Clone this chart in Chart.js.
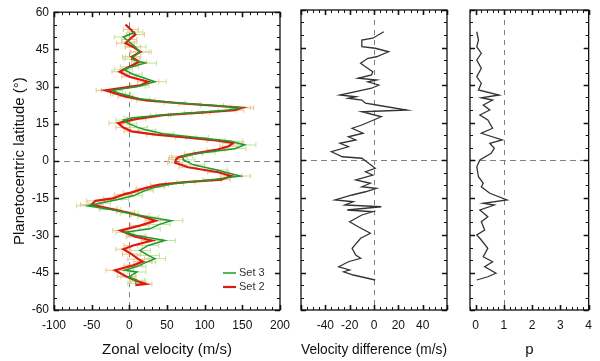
<!DOCTYPE html>
<html>
<head>
<meta charset="utf-8">
<script src="https://cdn.jsdelivr.net/npm/chart.js@4.4.0/dist/chart.umd.min.js"></script>
<style>
body { margin: 0; background: #fff; }
#wrap { position: relative; width: 600px; height: 361px; }
#wrap canvas { position: absolute; left: 0; top: 0; }
</style>
</head>
<body>
<div id="wrap">
  <canvas id="zonal" width="600" height="361"></canvas>
  <canvas id="diff" width="600" height="361"></canvas>
  <canvas id="pval" width="600" height="361"></canvas>
</div>
<script>
const latTicks = [60, 45, 30, 15, 0, -15, -30, -45, -60];

const set2Lat = [55, 53, 51, 49, 47.5, 46, 44, 42, 40, 38, 36, 34, 32, 30.5, 28.5, 27, 26, 24.5, 23, 21.5,
  20.5, 19.5, 18.5, 17, 15.3, 13.5, 12, 10.7, 9.5, 8.3, 7.3, 6, 4.5, 3, 1.5, 0.7, -0.7, -2.5, -4.5, -6,
  -7.5, -8.5, -9.5, -11, -12.7, -13.5, -15, -16, -17.5, -19, -20.5, -22, -24, -26, -28, -30.5, -32, -34, -35.5, -37.5,
  -39.5, -40.5, -42, -44, -46.5, -48.5, -49.5, -50];
const set2Vel = [-5, 2, 8, 0, -5, 5, 15, 3, 13, 0, -13, 0, 25, 14, -32, -15, -5, 22, 80, 150,
  140, 95, 45, 10, -15, -8, 3, 35, 75, 115, 138, 132, 115, 85, 65, 62, 61, 78, 118, 135,
  122, 75, 40, 20, 2, -8, -22, -45, -50, -28, -5, 14, 35, 14, -12, 8, 30, 5, -8, 3,
  12, 18, 5, -19, -4, 12, 22, 8];
const set2Err = [0, 10, 12, 10, 12, 10, 14, 12, 10, 12, 10, 10, 14, 12, 12, 10, 10, 12, 14, 15,
  12, 12, 10, 12, 12, 10, 10, 12, 14, 12, 14, 12, 12, 12, 12, 10, 10, 12, 14, 14,
  12, 12, 12, 10, 10, 12, 12, 12, 15, 12, 12, 12, 14, 12, 10, 12, 14, 12, 10, 12,
  14, 12, 12, 12, 12, 10, 8, 0];

const set3Lat = [52, 50, 48, 46, 44, 42, 41, 39.5, 37, 35, 32, 30, 28.5, 27, 25, 23.5, 22.5, 21.5, 20.5, 19.5,
  18.5, 17.5, 16.5, 15, 13.5, 12.5, 11, 9.5, 8, 6.5, 5, 3.5, 2, 0.5, -1.5, -3.5, -6, -7.5, -9, -10.5,
  -12, -14, -15.5, -17, -18, -19.5, -21, -22.5, -24, -25.5, -27.3, -28.7, -30, -32, -34, -36, -38, -39.3, -40.7, -42.5,
  -44, -44.7, -46.7, -48, -49.3];
const set3Vel = [8, -8, 0, 8, 14, 5, 3, 21, -8, 5, 34, 10, -23, -10, 15, 60, 110, 147, 130, 85,
  40, 5, -8, 0, 12, 23, 45, 90, 135, 153, 140, 100, 70, 72, 85, 115, 147, 110, 60, 35,
  20, 5, -15, -40, -55, -25, 0, 25, 56, 40, 27, -6, 10, 47, 25, 14, 25, 34, 23, 10,
  -6, 10, -1, 10, 8];
const set3Err = [10, 12, 10, 14, 12, 10, 10, 15, 12, 12, 15, 12, 14, 12, 12, 14, 15, 14, 12, 12,
  12, 12, 10, 10, 12, 12, 14, 15, 15, 15, 15, 14, 14, 15, 15, 15, 14, 12, 12, 12,
  12, 12, 14, 15, 15, 14, 12, 14, 15, 14, 14, 12, 12, 14, 14, 14, 15, 14, 12, 12,
  12, 12, 10, 10, 10];

const diffLat = [51.3, 48.7, 48, 45.3, 44.7, 43.3, 41.3, 40.7, 38.7, 37.3, 35.3, 34, 32.7, 32, 31.3, 30, 28.7, 26, 25.3, 24.7,
  24, 22.7, 22, 20, 19.3, 17.3, 14, 12.7, 10.7, 9.3, 8, 6.7, 5.3, 3.3, 1.3, 0.7, -0.7, -3.3, -4.7, -6,
  -8, -9.3, -10.7, -11.3, -12.7, -14, -16, -16.7, -18, -18.7, -20, -20.7, -22, -24.7, -26.7, -29.3, -31.3, -35.3, -38, -39.3,
  -40.7, -42.7, -44, -44.7, -46, -48];
const diffVal = [8, -1, -10, -10, 1, 12, 2, -5, -11, -7, -1, -2, -13, 2, -5, 4, -2, -28, -15, -21,
  -10, -7, 2, 27, -10, 6, -10, -18, -9, -21, -15, -28, -21, -35, -26, -10, -6, 1, -7, -1,
  -15, -3, -10, 2, -7, -18, -32, -17, -24, 6, -22, -1, -10, -20, -13, -3, -11, -18, -15, -11,
  -21, -29, -20, -25, -17, 1];

const pLat = [51.3, 48, 45.3, 42.7, 40, 36.7, 33.3, 30.7, 28, 26, 24.9, 24, 22, 20, 18, 16, 12.7, 10.7, 8, 6.7,
  4.7, 2.7, 0, -2.7, -6.7, -9.3, -10.7, -13.3, -16, -17.3, -18, -20, -22.7, -24.7, -28, -30, -32, -35.3, -38.7, -40.7,
  -42.7, -45.3, -46.7, -48];
const pVal = [0.04, 0.1, 0.04, 0.2, 0.04, 0.2, 0.04, 0.2, 0.1, 0.83, 0.2, 0.6, 0.27, 0.5, 0.15, 0.43, 0.6, 0.2, 0.94, 0.5,
  0.66, 0.55, 0.15, 0.04, 0.1, 0.27, 0.2, 0.5, 1.11, 0.27, 0.66, 0.15, 0.43, 0.2, 0.32, 0.04, 0.2, 0.43, 0.27, 0.6,
  0.32, 0.72, 0.43, 0.04];

Chart.defaults.font.family = "'Liberation Sans', Arial, sans-serif";
Chart.defaults.font.size = 12;
Chart.defaults.color = '#111';

const toPoints = (xs, ys) => ys.map((y, i) => ({x: xs[i], y: y}));

const framePlugin = {
    id: 'frame',
    beforeDatasetsDraw(chart, args, opts) {
        const {ctx, chartArea: a, scales: {x, y}} = chart;
        ctx.save();
        ctx.strokeStyle = '#808080';
        ctx.lineWidth = 1;
        ctx.setLineDash([6, 4]);
        const y0 = Math.round(y.getPixelForValue(0)) + 0.5;
        ctx.beginPath();
        ctx.moveTo(a.left, y0);
        ctx.lineTo(a.right, y0);
        ctx.stroke();
        ctx.setLineDash([5, 5]);
        const xr = Math.round(x.getPixelForValue(opts.refX)) + 0.5;
        ctx.beginPath();
        ctx.moveTo(xr, a.top);
        ctx.lineTo(xr, a.bottom);
        ctx.stroke();
        ctx.restore();
    },
    afterDatasetsDraw(chart, args, opts) {
        const {ctx, chartArea: a, scales: {x, y}} = chart;
        ctx.save();
        ctx.strokeStyle = '#111';
        const marks = (scale, step, major, fn) => {
            const n = Math.round((scale.max - scale.min) / step);
            for (let i = 0; i <= n; i++) {
                const v = scale.min + i * step;
                const isMajor = Math.abs(v / major - Math.round(v / major)) < 1e-6;
                ctx.lineWidth = isMajor ? 1.6 : 1;
                fn(Math.round(scale.getPixelForValue(v)) + 0.5, isMajor ? 5 : 3);
            }
        };
        marks(x, opts.xStep, opts.xMajor, (px, len) => {
            ctx.beginPath();
            ctx.moveTo(px, a.top); ctx.lineTo(px, a.top + len);
            ctx.moveTo(px, a.bottom); ctx.lineTo(px, a.bottom - len);
            ctx.stroke();
        });
        marks(y, 5, 15, (py, len) => {
            ctx.beginPath();
            ctx.moveTo(a.left, py); ctx.lineTo(a.left + len, py);
            ctx.moveTo(a.right, py); ctx.lineTo(a.right - len, py);
            ctx.stroke();
        });
        ctx.lineWidth = 1.3;
        ctx.strokeRect(a.left, a.top, a.right - a.left, a.bottom - a.top);
        ctx.restore();
    }
};

const errorBarPlugin = {
    id: 'errorBars',
    beforeDatasetsDraw(chart) {
        const {ctx, scales: {x, y}} = chart;
        ctx.save();
        ctx.lineWidth = 1;
        chart.data.datasets.forEach(ds => {
            if (!ds.errors) return;
            ctx.strokeStyle = ds.errorColor;
            ds.data.forEach((pt, i) => {
                const e = ds.errors[i];
                if (!e) return;
                const py = y.getPixelForValue(pt.y);
                const x1 = x.getPixelForValue(pt.x - e);
                const x2 = x.getPixelForValue(pt.x + e);
                ctx.beginPath();
                ctx.moveTo(x1, py); ctx.lineTo(x2, py);
                ctx.moveTo(x1, py - 2.5); ctx.lineTo(x1, py + 2.5);
                ctx.moveTo(x2, py - 2.5); ctx.lineTo(x2, py + 2.5);
                ctx.stroke();
            });
        });
        ctx.restore();
    }
};

const legendPlugin = {
    id: 'setLegend',
    afterDraw(chart) {
        const {ctx} = chart;
        ctx.save();
        ctx.font = "11px 'Liberation Sans', Arial, sans-serif";
        ctx.textBaseline = 'middle';
        ctx.fillStyle = '#333';
        chart.data.datasets.forEach((ds, i) => {
            const ly = 273 + i * 14;
            ctx.strokeStyle = ds.borderColor;
            ctx.lineWidth = ds.borderWidth;
            ctx.beginPath();
            ctx.moveTo(223, ly);
            ctx.lineTo(236, ly);
            ctx.stroke();
            ctx.fillText(ds.label, 239, ly);
        });
        ctx.restore();
    }
};

const xAxis = (min, max, step, title, extra = {}) => Object.assign({
    type: 'linear',
    min: min,
    max: max,
    grid: {display: false, drawTicks: false},
    border: {display: false},
    ticks: {stepSize: step, padding: 8, maxRotation: 0},
    title: {display: true, text: title, font: {size: 15}, color: '#111', padding: {top: 0, bottom: 2}},
    afterFit: s => { s.height = 51; }
}, extra);

const yAxis = (show) => ({
    type: 'linear',
    min: -60,
    max: 60,
    display: show,
    grid: {display: false, drawTicks: false},
    border: {display: false},
    ticks: {stepSize: 15, padding: 5},
    afterBuildTicks: s => { s.ticks = latTicks.map(v => ({value: v})); },
    title: {display: show, text: 'Planetocentric latitude (°)', font: {size: 15}, color: '#111', padding: {top: 11, bottom: 0}},
    afterFit: s => { s.width = show ? 54 : 0; }
});

const baseOptions = (padding, xScale, showY, frame) => ({
    responsive: false,
    animation: false,
    layout: {padding: padding},
    scales: {x: xScale, y: yAxis(showY)},
    elements: {point: {radius: 0}, line: {tension: 0}},
    plugins: {legend: {display: false}, tooltip: {enabled: false}, frame: frame}
});

new Chart(document.getElementById('zonal'), {
    type: 'scatter',
    data: {
        datasets: [{
            label: 'Set 3',
            data: toPoints(set3Vel, set3Lat),
            errors: set3Err,
            errorColor: '#bde59c',
            showLine: true,
            borderColor: '#1e9a2c',
            borderWidth: 1.5
        }, {
            label: 'Set 2',
            data: toPoints(set2Vel, set2Lat),
            errors: set2Err,
            errorColor: '#f0c48e',
            showLine: true,
            borderColor: '#e0190f',
            borderWidth: 2.2
        }]
    },
    options: baseOptions({left: 0, right: 320, top: 10, bottom: 0},
        xAxis(-100, 200, 50, 'Zonal velocity (m/s)'), true,
        {refX: 0, xStep: 10, xMajor: 50}),
    plugins: [framePlugin, errorBarPlugin, legendPlugin]
});

new Chart(document.getElementById('diff'), {
    type: 'scatter',
    data: {
        datasets: [{
            label: 'Velocity difference',
            data: toPoints(diffVal, diffLat),
            showLine: true,
            borderColor: '#333',
            borderWidth: 1.3
        }]
    },
    options: baseOptions({left: 301, right: 153, top: 10, bottom: 0},
        xAxis(-60, 60, 20, 'Velocity difference (m/s)', {
            afterBuildTicks: s => { s.ticks = s.ticks.filter(t => Math.abs(t.value) <= 40); }
        }), false,
        {refX: 0, xStep: 5, xMajor: 20}),
    plugins: [framePlugin]
});

new Chart(document.getElementById('pval'), {
    type: 'scatter',
    data: {
        datasets: [{
            label: 'p',
            data: toPoints(pVal, pLat),
            showLine: true,
            borderColor: '#333',
            borderWidth: 1.3
        }]
    },
    options: baseOptions({left: 470, right: 6, top: 10, bottom: 0},
        xAxis(-0.2, 4, 1, 'p', {
            afterBuildTicks: s => { s.ticks = [0, 1, 2, 3, 4].map(v => ({value: v})); }
        }), false,
        {refX: 1, xStep: 0.2, xMajor: 1}),
    plugins: [framePlugin]
});
</script>
</body>
</html>
